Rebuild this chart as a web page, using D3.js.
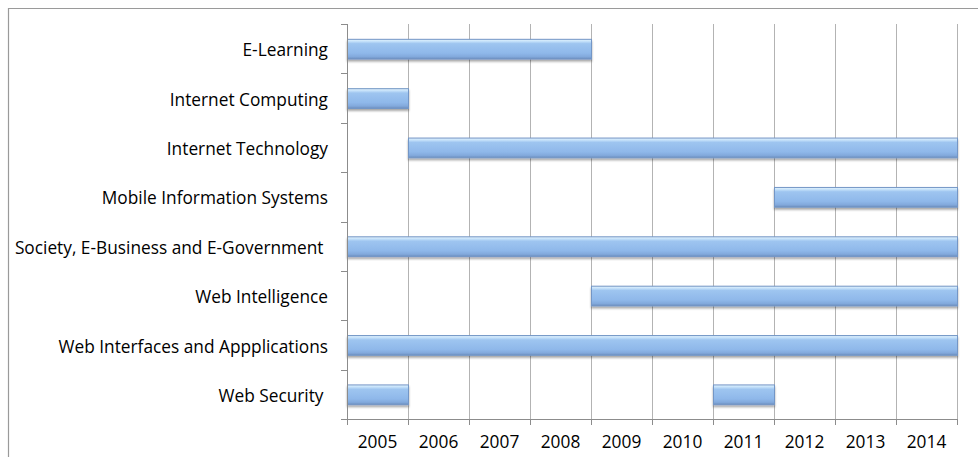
<!DOCTYPE html>
<html lang="en">
<head>
<meta charset="UTF-8">
<title>Tracks by year</title>
<style>
  body { margin: 0; background: #fff; }
  svg text { font-family: "Open Sans", "Liberation Sans", sans-serif; fill: #000; }
</style>
</head>
<body>
<div id="chart"></div>
<script src="https://d3js.org/d3.v7.min.js"></script>
<script>
// categories top to bottom (trailing spaces as in the source labels)
const categories = [
  "E-Learning",
  "Internet Computing",
  "Internet Technology",
  "Mobile Information Systems",
  "Society, E-Business and E-Government ",
  "Web Intelligence",
  "Web Interfaces and Appplications",
  "Web Security "
];
// bar segments: category index, first year, last year (inclusive)
const segCategory = [0, 1, 2, 3, 4, 5, 6, 7, 7];
const segFrom     = [2005, 2005, 2006, 2012, 2005, 2009, 2005, 2005, 2011];
const segTo       = [2008, 2005, 2014, 2014, 2014, 2014, 2014, 2005, 2011];
const years = [2005, 2006, 2007, 2008, 2009, 2010, 2011, 2012, 2013, 2014];

const W = 978, H = 457;
const plot = { left: 347, right: 957, top: 24, bottom: 419 };
const fontSize = 17.3;

const svg = d3.select("#chart").append("svg")
  .attr("width", W).attr("height", H);

// outer frame
svg.append("path")
  .attr("d", `M8.5,${H} V8.5 H${W}`)
  .attr("fill", "none").attr("stroke", "#9a9a9a").attr("stroke-width", 1.2);

const defs = svg.append("defs");
const grad = defs.append("linearGradient").attr("id", "barFill")
  .attr("x1", 0).attr("y1", 0).attr("x2", 0).attr("y2", 1);
grad.append("stop").attr("offset", "0%").attr("stop-color", "#e4f3fd");
grad.append("stop").attr("offset", "10%").attr("stop-color", "#c6e2fa");
grad.append("stop").attr("offset", "22%").attr("stop-color", "#9ec5f0");
grad.append("stop").attr("offset", "70%").attr("stop-color", "#8fb8ea");
grad.append("stop").attr("offset", "88%").attr("stop-color", "#82a9dc");
grad.append("stop").attr("offset", "100%").attr("stop-color", "#6b8dbd");

const shadow = defs.append("filter").attr("id", "shadow")
  .attr("x", "-5%").attr("y", "-30%").attr("width", "110%").attr("height", "170%");
shadow.append("feDropShadow").attr("dx", 0).attr("dy", 2).attr("stdDeviation", 1.3)
  .attr("flood-color", "#000").attr("flood-opacity", 0.35);

const x = d3.scaleLinear().domain([2005, 2015]).range([plot.left, plot.right]);
const y = d3.scaleBand().domain(d3.range(categories.length))
  .range([plot.top, plot.bottom]).paddingInner(0.6).paddingOuter(0.3);
const yBand = d3.scaleBand().domain(d3.range(categories.length))
  .range([plot.top, plot.bottom]);

// vertical gridlines
svg.append("g").selectAll("line")
  .data(d3.range(2006, 2016))
  .join("line")
  .attr("x1", d => x(d) + 0.5).attr("x2", d => x(d) + 0.5)
  .attr("y1", plot.top).attr("y2", plot.bottom)
  .attr("stroke", "#b3b3b3").attr("stroke-width", 1);

// bars
svg.append("g").selectAll("rect")
  .data(d3.range(segCategory.length))
  .join("rect")
  .attr("x", i => x(segFrom[i]) + 0.5)
  .attr("width", i => x(segTo[i] + 1) - x(segFrom[i]))
  .attr("y", i => y(segCategory[i]) + 0.5)
  .attr("height", y.bandwidth())
  .attr("fill", "url(#barFill)")
  .attr("stroke", "#7396c6").attr("stroke-width", 1)
  .attr("filter", "url(#shadow)");

// left axis (category ticks at band boundaries)
const axisColor = "#8c8c8c";
svg.append("line")
  .attr("x1", plot.left + 0.5).attr("x2", plot.left + 0.5)
  .attr("y1", plot.top).attr("y2", plot.bottom)
  .attr("stroke", axisColor);
svg.append("g").selectAll("line")
  .data(d3.range(categories.length + 1))
  .join("line")
  .attr("x1", plot.left - 6).attr("x2", plot.left)
  .attr("y1", i => Math.round(plot.top + i * yBand.step()) + 0.5)
  .attr("y2", i => Math.round(plot.top + i * yBand.step()) + 0.5)
  .attr("stroke", axisColor);
svg.append("g").selectAll("text")
  .data(categories)
  .join("text")
  .attr("x", 328)
  .attr("y", (d, i) => yBand(i) + yBand.bandwidth() / 2)
  .attr("dy", "0.44em")
  .attr("text-anchor", "end")
  .attr("font-size", fontSize)
  .style("white-space", "pre")
  .text(d => d);

// bottom axis
svg.append("line")
  .attr("x1", plot.left - 6).attr("x2", plot.right)
  .attr("y1", plot.bottom + 0.5).attr("y2", plot.bottom + 0.5)
  .attr("stroke", axisColor);
svg.append("g").selectAll("line")
  .data(d3.range(2005, 2016))
  .join("line")
  .attr("x1", d => x(d) + 0.5).attr("x2", d => x(d) + 0.5)
  .attr("y1", plot.bottom).attr("y2", plot.bottom + 6)
  .attr("stroke", axisColor);
svg.append("g").selectAll("text")
  .data(years)
  .join("text")
  .attr("x", d => x(d + 0.5))
  .attr("y", 447.5)
  .attr("text-anchor", "middle")
  .attr("font-size", fontSize)
  .text(d => d);
</script>
</body>
</html>
